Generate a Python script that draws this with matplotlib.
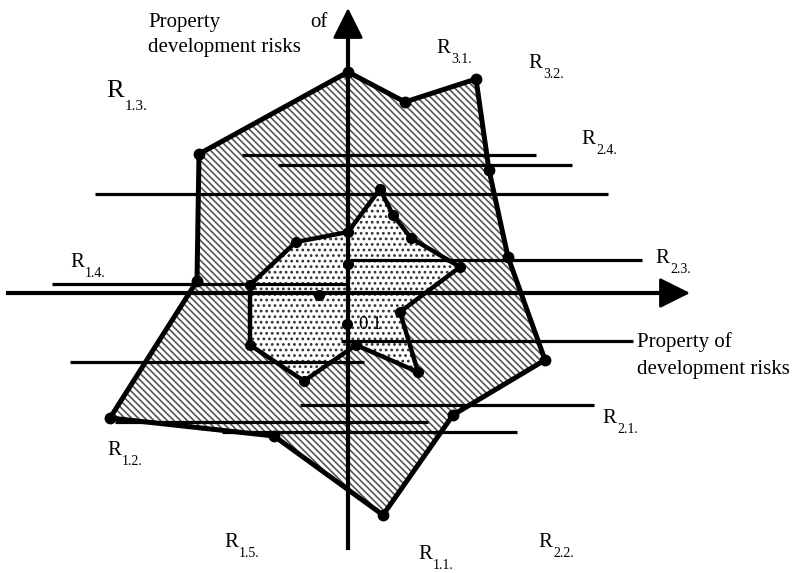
import matplotlib.pyplot as plt
from matplotlib.patches import Polygon

plt.rcParams['font.family'] = ['Liberation Serif', 'DejaVu Serif']
plt.rcParams['hatch.linewidth'] = 1.2

# diagram drawn in image pixel units (x to the right, y downward)
outer_x = [348, 405, 476, 489, 508, 545, 453, 383, 274, 110, 197, 199]
outer_y = [72, 102, 79, 170, 257, 360, 415, 515, 436, 418, 281, 154]

inner_x = [380, 393, 411, 460, 400, 418, 356, 304, 250, 250, 296, 348]
inner_y = [189, 215, 238, 267, 312, 372, 345, 381, 345, 285, 242, 232]

extra_x = [348, 319, 347]
extra_y = [264, 295, 324]

# horizontal risk lines: level, start, end
line_y = [155, 165, 194, 260, 284, 341, 362, 405, 422, 432]
line_x0 = [242, 278, 95, 350, 52, 341, 70, 300, 115, 222]
line_x1 = [536, 572, 608, 642, 348, 633, 364, 594, 428, 517]

# labels R_{sub}: sub, x, baseline y
r_subs = ['3.1.', '3.2.', '2.4.', '2.3.', '1.4.', '1.2.', '1.5.', '1.1.', '2.2.', '2.1.']
r_x = [436, 528, 581, 655, 70, 107, 224, 418, 538, 602]
r_y = [53, 68, 144, 263, 267, 455, 547, 559, 547, 423]

origin_x, origin_y = 348, 293

fig = plt.figure(figsize=(7.96, 5.73), dpi=100)
ax = fig.add_axes([0, 0, 1, 1])
ax.set_xlim(0, 796)
ax.set_ylim(573, 0)
ax.axis('off')

ax.add_patch(Polygon(list(zip(outer_x, outer_y)), closed=True, facecolor='white',
                     edgecolor='#555555', lw=0, hatch='\\\\\\\\\\', zorder=1))
ax.add_patch(Polygon(list(zip(inner_x, inner_y)), closed=True, facecolor='white',
                     edgecolor='#333333', lw=0, hatch='...', zorder=2))

for y, a, b in zip(line_y, line_x0, line_x1):
    ax.plot([a, b], [y, y], color='black', lw=2.3, solid_capstyle='butt', zorder=3)

# axes with arrows
ax.plot([origin_x, origin_x], [548, 30], color='black', lw=3, zorder=4)
ax.plot([8, 665], [origin_y, origin_y], color='black', lw=3, zorder=4)
arrow = dict(arrowstyle='-|>,head_length=1.0,head_width=0.5', lw=2, color='black',
             mutation_scale=19, shrinkA=0, shrinkB=0)
ax.annotate('', xy=(origin_x, 8), xytext=(origin_x, 60), arrowprops=arrow, zorder=5)
ax.annotate('', xy=(690, origin_y), xytext=(640, origin_y), arrowprops=arrow, zorder=5)

ax.plot(outer_x + outer_x[:1], outer_y + outer_y[:1], color='black', lw=3.6,
        solid_joinstyle='round', zorder=6)
ax.plot(inner_x + inner_x[:1], inner_y + inner_y[:1], color='black', lw=3.2,
        solid_joinstyle='round', zorder=6)
ax.plot(outer_x, outer_y, 'o', color='black', ms=7.5, zorder=7)
ax.plot(inner_x, inner_y, 'o', color='black', ms=7, zorder=7)
ax.plot(extra_x, extra_y, 'o', color='black', ms=7, zorder=7)


def r_label(x, y, sub, size=15, subsize=10):
    ax.text(x, y, 'R', fontsize=size, va='baseline', ha='left', zorder=8)
    ax.annotate(sub, (x, y), xytext=(size * 0.72, -size * 0.5), textcoords='offset points',
                fontsize=subsize, va='baseline', ha='left', zorder=8)


for s, x, y in zip(r_subs, r_x, r_y):
    r_label(x, y, s)
r_label(106, 97, '1.3.', size=19, subsize=11)

ax.text(148, 27, 'Property', fontsize=15, va='baseline', ha='left')
ax.text(328, 27, 'of', fontsize=15, va='baseline', ha='right')
ax.text(148, 52, 'development risks', fontsize=15, va='baseline', ha='left')
ax.text(637, 347, 'Property of', fontsize=15, va='baseline', ha='left')
ax.text(637, 374, 'development risks', fontsize=15, va='baseline', ha='left')
ax.text(358, 329, '0.1', fontsize=13.5, va='baseline', ha='left', zorder=8)

fig.savefig('out.png', dpi=100)
